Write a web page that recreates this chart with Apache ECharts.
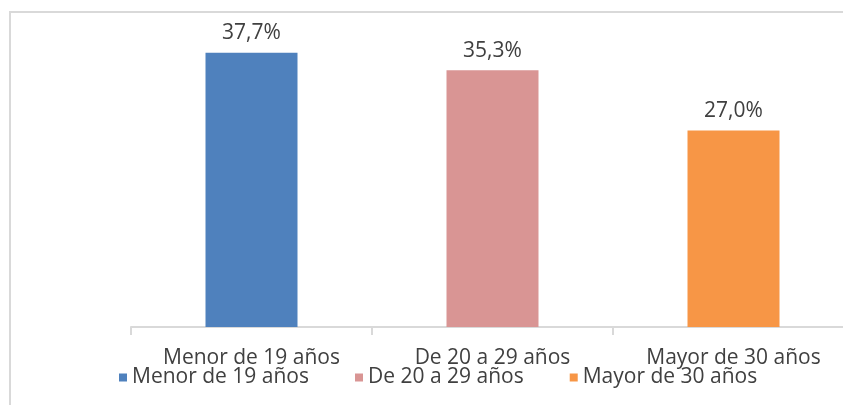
<!DOCTYPE html>
<html>
<head>
<meta charset="utf-8">
<script src="https://cdn.jsdelivr.net/npm/echarts@6/dist/echarts.min.js"></script>
<style>
  html, body { margin: 0; padding: 0; background: #fff; }
  #chart { width: 843px; height: 405px; }
</style>
</head>
<body>
<div id="chart"></div>
<script>
const categories = ["Menor de 19 años", "De 20 a 29 años", "Mayor de 30 años"];
const values = [37.7, 35.3, 27.0];
const colors = ["#4f81bd", "#d99594", "#f79646"];

const textColor = "#404040";
const font = "Open Sans";

// one series per bar so the legend gets three entries
const series = categories.map((name, i) => {
  return {
    name: name,
    type: "bar",
    barWidth: 92,
    barGap: "-100%",
    itemStyle: { color: colors[i] },
    label: {
      show: true,
      position: "top",
      distance: 9,
      color: textColor,
      fontFamily: font,
      fontSize: 21,
      formatter: p => p.value.toFixed(1).replace(".", ",") + "%",
    },
    data: values.map((v, j) => (j === i ? v : null)),
  };
});

const chart = echarts.init(document.getElementById("chart"));
chart.setOption({
  animation: false,
  graphic: [
    {
      type: "rect",
      shape: { x: 10, y: 12, width: 900, height: 500 },
      style: { fill: "none", stroke: "#d9d9d9", lineWidth: 2 },
      silent: true,
    },
  ],
  grid: {
    left: 131,
    right: -11,
    top: 36,
    bottom: 78,
    outerBoundsMode: "none",
  },
  legend: {
    data: categories,
    left: 114,
    top: 362,
    icon: "rect",
    itemWidth: 8,
    itemHeight: 8,
    itemGap: 46,
    textStyle: {
      color: textColor,
      fontFamily: font,
      fontSize: 21,
    },
  },
  xAxis: {
    type: "category",
    data: categories,
    axisLine: {
      show: true,
      lineStyle: { color: "#d9d9d9", width: 2 },
    },
    axisTick: {
      show: true,
      length: 8,
      lineStyle: { color: "#d9d9d9", width: 2 },
    },
    axisLabel: {
      margin: 21,
      color: textColor,
      fontFamily: font,
      fontSize: 21,
    },
  },
  yAxis: {
    type: "value",
    min: 0,
    max: 40,
    show: false,
    splitLine: { show: false },
  },
  series: series,
});
</script>
</body>
</html>
